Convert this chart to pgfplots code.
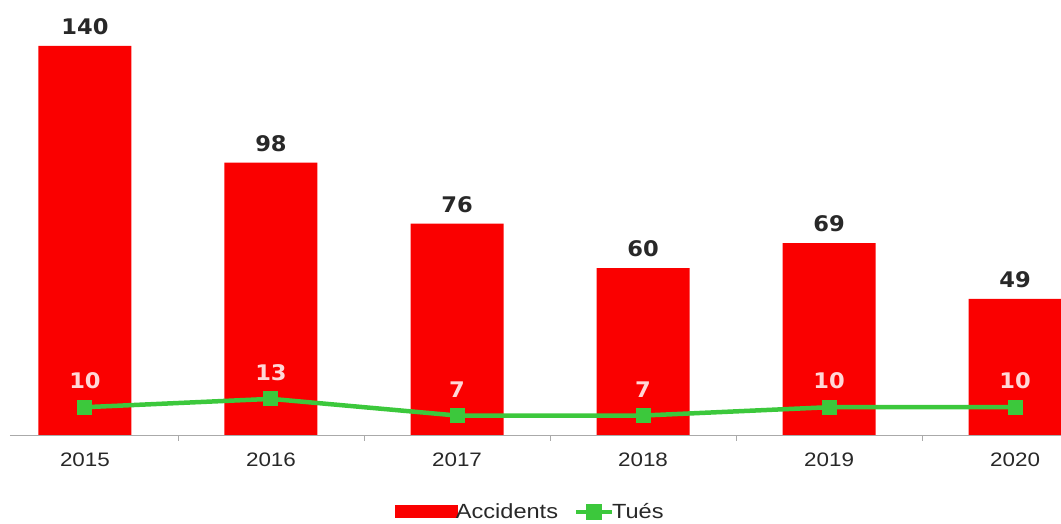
\documentclass[border=0pt]{standalone}
\usepackage{fontspec}
\usepackage{pgfplots}
\pgfplotsset{compat=1.18}
\setmainfont{Liberation Sans}[FakeStretch=1.15]
\newfontfamily\valfont{DejaVu Sans}[FakeStretch=1.05]
\definecolor{barred}{RGB}{250,0,0}
\definecolor{lgreen}{RGB}{60,200,60}
\definecolor{lpink}{RGB}{255,215,215}
\definecolor{axgray}{RGB}{170,170,170}
\definecolor{txt}{RGB}{40,40,40}
\begin{document}
\begin{tikzpicture}
\useasboundingbox (0,0) rectangle (1061pt,524pt);
\begin{axis}[
  at={(10pt,89pt)}, anchor=south west,
  scale only axis, width=1051pt, height=435pt,
  xmin=-0.403, xmax=5.247, ymin=0, ymax=156.5,
  /pgf/number format/assume math mode=true,
  axis y line=none, axis x line*=bottom,
  x axis line style={axgray, line width=0.8pt},
  xtick={0,1,2,3,4,5},
  xticklabels={2015,2016,2017,2018,2019,2020},
  major tick length=0pt,
  minor xtick={0.5,1.5,2.5,3.5,4.5},
  minor tick length=6pt, tick align=outside,
  minor tick style={axgray, line width=0.8pt},
  xticklabel style={font=\fontsize{19.5}{20}\selectfont, text=txt, inner sep=0pt, yshift=-18pt},
  legend columns=2,
  legend style={at={(0.495,-0.177)}, anchor=center, draw=none, fill=none,
    font=\fontsize{20.5}{21}\selectfont, text=txt, inner sep=0pt,
    /tikz/every even column/.append style={column sep=14pt}},
  clip=false,
]
\addplot[ybar, bar width=93pt, fill=barred, draw=none,
  nodes near coords,
  every node near coord/.append style={font=\valfont\bfseries\fontsize{21.5}{22}\selectfont, text=txt, anchor=south, inner sep=0pt, yshift=11pt},
  legend image code/.code={\fill[barred] (0pt,-6.5pt) rectangle (63pt,6.5pt);}
] coordinates {(0,140) (1,98) (2,76) (3,60) (4,69) (5,49)};
\addlegendentry{\hspace{-4pt}Accidents}
\addplot[lgreen, line width=4.5pt, mark=square*, mark size=7pt,
  mark options={fill=lgreen, draw=lgreen, line width=0pt},
  nodes near coords,
  every node near coord/.append style={font=\valfont\bfseries\fontsize{21.5}{22}\selectfont, text=lpink, anchor=south, inner sep=0pt, yshift=18pt},
  legend image code/.code={\draw[lgreen, line width=4pt] (0pt,0pt) -- (36pt,0pt); \fill[lgreen] (12pt,-6pt) rectangle (24pt,6pt);}
] coordinates {(0,10) (1,13) (2,7) (3,7) (4,10) (5,10)};
\addlegendentry{\hspace{-4pt}Tués}
\end{axis}
\end{tikzpicture}
\end{document}
